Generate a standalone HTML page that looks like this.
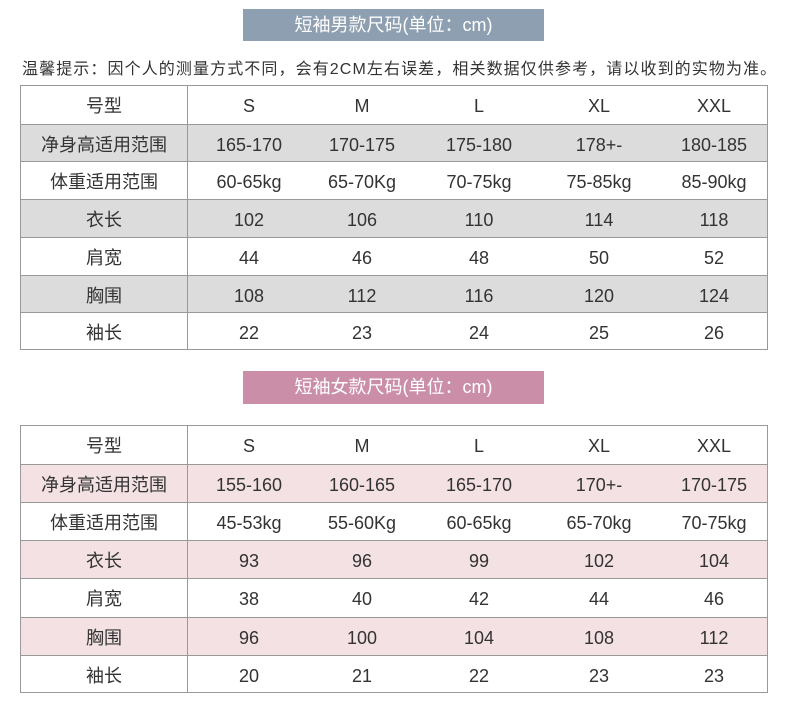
<!DOCTYPE html>
<html><head><meta charset="utf-8"><style>
body{margin:0;width:790px;height:716px;background:#fff;position:relative;overflow:hidden;font-family:"Liberation Sans","Noto Sans CJK SC",sans-serif;color:#333}
.title{position:absolute;left:243px;width:301px;height:32px;color:#fff;font-size:18px;line-height:33px;text-align:center}
.tip{position:absolute;left:22px;top:55px;font-size:16px;letter-spacing:1.1px;white-space:nowrap;color:#333}
.tbl{position:absolute;left:20px;width:748px;border:1px solid #999;box-sizing:border-box}
.row{position:absolute;left:0;width:746px;border-top:1px solid #999;box-sizing:border-box}
.row.first{border-top:none}
.cell{position:absolute;top:2px;text-align:center;font-size:18px;transform:translateX(-50%);white-space:nowrap}
.vline{position:absolute;left:166px;top:0;bottom:0;width:1px;background:#999}
</style></head><body>
<div class="title" style="top:9px;background:#8e9fb1">短袖男款尺码(单位：cm)</div>
<div class="tip">温馨提示：因个人的测量方式不同，会有2CM左右误差，相关数据仅供参考，请以收到的实物为准。</div>
<div class="tbl" id="t1" style="top:85px;height:265px"></div>
<div class="title" style="top:371px;height:33px;background:#cb8ea9">短袖女款尺码(单位：cm)</div>
<div class="tbl" id="t2" style="top:425px;height:268px"></div>
<script>
const rowLabels=["号型","净身高适用范围","体重适用范围","衣长","肩宽","胸围","袖长"];
const sizes=["S","M","L","XL","XXL"];
const menValues=[["165-170","170-175","175-180","178+-","180-185"],["60-65kg","65-70Kg","70-75kg","75-85kg","85-90kg"],["102","106","110","114","118"],["44","46","48","50","52"],["108","112","116","120","124"],["22","23","24","25","26"]];
const womenValues=[["155-160","160-165","165-170","170+-","170-175"],["45-53kg","55-60Kg","60-65kg","65-70kg","70-75kg"],["93","96","99","102","104"],["38","40","42","44","46"],["96","100","104","108","112"],["20","21","22","23","23"]];
const colCenters=[83,228,341,458,578,693];
function build(id,vals,h,shade){
  const t=document.getElementById(id);
  const rows=[sizes].concat(vals);
  rows.forEach((r,i)=>{
    const row=document.createElement('div');
    
    
    row.className='row'+(i===0?' first':'');
    row.style.top=(i*h)+'px';row.style.height=h+'px';
    if(i%2===1)row.style.background=shade;
    const cells=[rowLabels[i]].concat(r);
    cells.forEach((c,j)=>{
      const d=document.createElement('div');
      
      
      d.className='cell';d.textContent=c;
      d.style.left=colCenters[j]+'px';d.style.lineHeight=(h-1)+'px';
      row.appendChild(d);
    });
    t.appendChild(row);
  });
  const v=document.createElement('div');
  
  
  v.className='vline';t.appendChild(v);
}
build('t1',menValues,37.7,'#dcdcdc');
build('t2',womenValues,38.1,'#f3e1e3');
</script>
</body></html>
